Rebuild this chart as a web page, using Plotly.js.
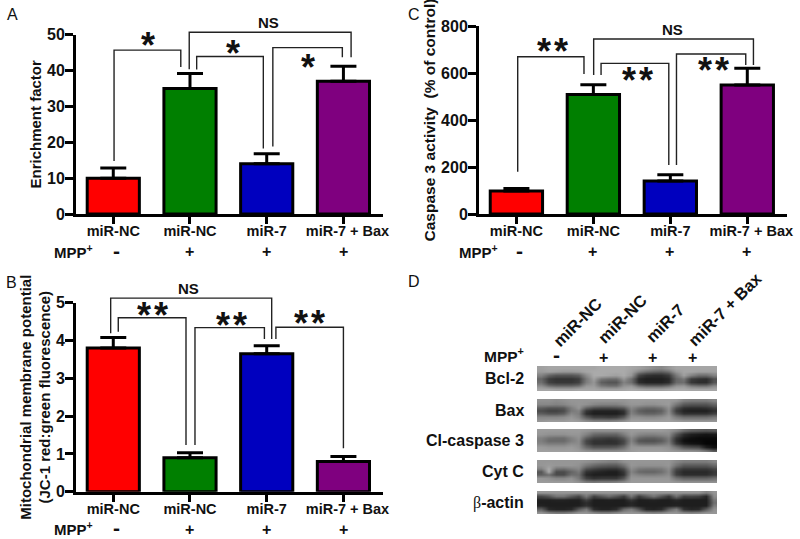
<!DOCTYPE html>
<html><head><meta charset="utf-8">
<script src="https://cdn.plot.ly/plotly-3.0.1.min.js"></script>
<style>html,body{margin:0;padding:0;background:#fff}#c{width:800px;height:539px}</style>
</head><body><div id="c"></div>
<script>
// ---- data ----
const categories = ['miR-NC','miR-NC','miR-7','\u00a0\u00a0miR-7 + Bax'];
const mppSigns = ['-','+','+','+'];
const barColors = ['#ff0000','#007f00','#0000bf','#7f007f'];

const enrichment = [10,35,14,37];
const enrichmentErr = [2.8,4.2,2.8,4.2];
const potential = [3.8,0.9,3.65,0.8];
const potentialErr = [0.28,0.13,0.21,0.13];
const caspase = [98,508,140,549];
const caspaseErr = [10,42,27,71];

const bracketsA = [
 {x:[0.01,0.01,0.88,0.88], y:[14.8,45.7,45.7,41]},
 {x:[0.99,0.99,3.10,3.10], y:[40.4,50.7,50.7,43.7]},
 {x:[1.087,1.087,1.956,1.956], y:[40.3,43.9,43.9,18.3]},
 {x:[2.08,2.08,2.986,2.986], y:[18.8,46.4,46.4,43.7]}
];
const bracketsB = [
 {x:[-0.034,-0.034,2.065,2.065], y:[4.19,5.12,5.12,4.04]},
 {x:[0.065,0.065,0.948,0.948], y:[4.23,4.60,4.60,1.235]},
 {x:[1.065,1.065,1.97,1.97], y:[1.235,4.34,4.34,4.04]},
 {x:[2.12,2.12,3.0,3.0], y:[4.04,4.35,4.35,1.15]}
];
const bracketsC = [
 {x:[0.017,0.017,0.878,0.878], y:[180,669,669,596]},
 {x:[1.004,1.004,3.08,3.08], y:[591,745,745,634]},
 {x:[1.10,1.10,1.98,1.98], y:[591,641,641,209]},
 {x:[2.08,2.08,2.98,2.98], y:[209,681,681,634]}
];

const blotNames = ['Bcl-2','Bax','Cl-caspase 3','Cyt C','<span style="font-family:Liberation Serif;font-weight:normal">\u03b2</span>-actin'];
const blotLanes = ['miR-NC','miR-NC','miR-7','miR-7 + Bax'];
const bcl2 = [
[160,165,165,165,165,165,165,165,170,170,170,170,165,160,150,140,135,150,165,165,165,165,165,165],
[155,160,155,150,150,155,165,170,170,170,170,170,160,130,110,100,95,110,150,165,165,160,160,160],
[130,100,85,85,85,95,140,170,170,165,160,170,150,70,50,45,45,60,120,160,130,110,110,130],
[100,60,50,50,50,60,120,160,120,110,110,150,110,40,30,30,30,40,100,120,60,50,45,80],
[110,65,55,55,55,65,125,150,95,85,85,130,110,45,35,35,35,45,105,110,55,45,45,85],
[140,110,100,100,100,110,150,155,120,110,110,145,150,110,95,95,95,110,145,150,120,110,110,135],
[165,165,160,160,160,165,165,165,160,160,160,165,170,165,160,160,160,165,170,170,165,165,165,165]];
const bax = [
[145,145,140,145,150,150,150,150,150,150,150,150,155,155,155,155,155,155,150,130,125,125,125,135],
[135,135,130,135,145,150,145,135,130,130,130,140,150,150,145,145,150,155,120,90,85,85,85,100],
[95,85,85,90,125,150,100,80,75,75,80,90,135,115,105,105,115,145,80,50,45,45,50,65],
[75,65,65,75,120,130,55,35,35,35,35,50,125,95,85,85,95,140,60,35,30,30,30,45],
[95,85,85,95,135,125,45,30,30,30,30,45,130,110,100,100,110,145,80,50,50,50,50,65],
[135,135,135,140,150,135,90,65,65,60,65,90,145,145,140,140,145,155,125,110,110,110,110,120],
[150,155,155,155,160,155,140,130,130,130,135,145,160,160,160,160,160,160,155,150,150,150,150,150]];
const casp = [
[155,155,155,155,155,155,150,145,145,145,145,150,155,155,155,155,155,150,135,110,95,90,85,90],
[150,145,145,145,150,150,130,105,100,100,100,125,150,135,130,130,135,140,85,45,30,25,20,25],
[130,115,110,110,130,145,95,70,65,60,65,90,135,105,95,95,105,125,55,25,15,10,10,10],
[125,105,105,105,125,140,70,50,50,45,50,70,130,85,80,80,90,120,45,15,10,10,5,5],
[135,125,125,125,140,140,75,50,50,50,50,75,140,110,105,105,115,130,60,30,20,15,5,5],
[155,150,150,150,155,145,105,85,85,85,90,110,150,150,150,150,150,145,115,85,75,70,30,15],
[160,160,160,160,160,155,145,140,140,140,140,145,155,160,160,160,160,155,150,145,145,140,120,90]];
const cytc = [
[150,150,150,150,150,150,145,140,135,130,130,145,150,150,150,150,150,150,135,125,125,125,125,135],
[150,155,150,150,150,145,120,105,95,90,90,115,150,145,145,145,145,150,115,90,90,90,90,105],
[130,170,115,110,125,135,80,65,55,50,50,75,140,120,115,115,120,140,75,55,55,55,55,70],
[85,170,75,75,100,120,50,40,35,30,30,55,130,105,100,100,110,135,60,40,40,40,40,55],
[95,110,75,75,110,110,40,30,30,30,30,50,140,130,125,125,130,140,65,45,45,45,45,60],
[150,145,135,135,145,120,65,50,55,55,55,85,150,150,150,150,150,150,115,100,100,100,100,110],
[155,155,155,155,155,145,125,120,125,125,130,140,155,155,155,155,155,155,150,145,145,145,145,145]];
const actin = [
[150,150,150,150,150,150,150,150,150,150,150,150,150,150,150,150,150,150,150,150,150,150,130,150],
[70,85,115,115,90,70,120,65,85,105,85,60,115,60,90,115,85,55,110,65,70,65,40,140],
[32,32,35,35,32,32,65,30,30,32,30,30,55,30,32,35,30,30,40,30,30,30,30,120],
[30,30,30,30,30,30,45,30,30,30,30,30,38,30,30,30,30,30,32,30,30,30,30,110],
[35,30,30,30,30,32,50,30,30,30,30,30,42,30,30,30,30,32,36,30,30,30,32,125],
[95,40,34,34,40,90,120,45,34,34,45,105,125,85,38,34,42,95,125,50,38,42,90,145],
[150,135,125,125,135,150,150,140,130,130,140,150,150,150,140,135,140,150,150,140,135,140,150,150]];
const blots = [bcl2,bax,casp,cytc,actin];

// ---- layout helpers ----
const W=800,H=539;
const FONT='Liberation Sans, Arial, sans-serif';
const INK='#111';
const fx=p=>p/W, fy=p=>1-p/H;
const traces=[], annotations=[];
const layout={width:W,height:H,margin:{l:0,r:0,t:0,b:0},paper_bgcolor:'#fff',plot_bgcolor:'rgba(0,0,0,0)',showlegend:false,bargap:0.32,font:{family:FONT,color:INK},annotations};

function txt(x,y,text,size,opt={}){
  annotations.push(Object.assign({xref:'paper',yref:'paper',x:fx(x),y:fy(y),text,showarrow:false,xanchor:'center',yanchor:'middle',font:{family:FONT,size,color:INK}},opt));
}
function chart(n,vals,errs,brackets,pos,ytitle,titleSize,ytickvals,standoff){
  const xa=n===1?'x':'x'+n, ya=n===1?'y':'y'+n;
  const xb='x'+(n+10), yb='y'+(n+10);
  traces.push({type:'bar',x:[0,1,2,3],y:vals,xaxis:xa,yaxis:ya,
    marker:{color:barColors,line:{color:'#000',width:3}},
    error_y:{type:'data',symmetric:false,array:errs,arrayminus:[0,0,0,0],color:'#000',thickness:3,width:13},cliponaxis:false});
  brackets.forEach(b=>traces.push({type:'scatter',mode:'lines',x:b.x,y:b.y,xaxis:xb,yaxis:yb,cliponaxis:false,line:{color:'#222',width:1.4}}));
  const axis={showgrid:false,zeroline:false,showline:true,linecolor:'#000',linewidth:3,ticks:'outside',tickcolor:'#000',tickwidth:3};
  const xr=[-0.486,3.516], top=ytickvals[ytickvals.length-1];
  layout[n===1?'xaxis':'xaxis'+n]=Object.assign({},axis,{anchor:ya,domain:[fx(pos.l),fx(pos.r)],range:xr,tickmode:'array',tickvals:[0,1,2,3],ticktext:categories,ticklen:7,ticklabelstandoff:-5,tickfont:{family:FONT,size:14.5,weight:700,color:INK}});
  layout[n===1?'yaxis':'yaxis'+n]=Object.assign({},axis,{anchor:xa,domain:[fy(pos.b),fy(pos.t)],range:[0,top],tickmode:'array',tickvals:ytickvals,ticklen:8,ticklabelstandoff:-3,tickfont:{family:FONT,size:16,weight:700,color:INK},
    title:{text:'<b>'+ytitle+'</b>',standoff,font:{family:FONT,size:titleSize,color:INK}}});
  // hidden same-scale axes with head-room, so brackets may rise above the y axis
  const extra=20, h=pos.b-pos.t;
  layout['xaxis'+(n+10)]={visible:false,anchor:yb,domain:[fx(pos.l),fx(pos.r)],range:xr};
  layout['yaxis'+(n+10)]={visible:false,anchor:xb,domain:[fy(pos.b),fy(pos.t-extra)],range:[0,top*(h+extra)/h]};
  // MPP row
  txt(pos.mppX,pos.mppY,'<b>MPP<sup>+</sup></b>',15,{xanchor:'left'});
  mppSigns.forEach((s,i)=>{
    const sx=pos.l+(i+0.486)*76.7;
    if(s==='-') txt(sx+3,pos.mppY-1,'<b>-</b>',21);
    else txt(sx,pos.mppY+1,'<b>+</b>',16);
  });
}
// ---- panels A, B, C ----
chart(1,enrichment,enrichmentErr,bracketsA,{l:76,r:383,t:34.7,b:214,mppX:52,mppY:251},'Enrichment factor',15,[0,10,20,30,40,50],2);
chart(2,potential,potentialErr,bracketsB,{l:76,r:383,t:302.7,b:491.7,mppX:52,mppY:528},'Mitochondrial membrane potential<br>(JC-1 red:green fluorescence)',15,[0,1,2,3,4,5],2);
chart(3,caspase,caspaseErr,bracketsC,{l:479,r:787,t:26,b:214,mppX:457,mppY:251},'Caspase 3 activity\u00a0\u00a0(% of control)',15.5,[0,200,400,600,800],2);

// significance labels
[[148,40],[233,48],[308,62]].forEach(s=>txt(s[0],s[1]+5,'<b>*</b>',36));
[[152,310],[232,320],[309,318],[552,46.7],[637,75],[713,65.7]].forEach(s=>txt(s[0],s[1]+5,'<b>*\u200a*</b>',36));
txt(268,23,'<b>NS</b>',15); txt(188,288,'<b>NS</b>',15); txt(672,29,'<b>NS</b>',15);
// panel letters
txt(12,14,'A',16); txt(414,14,'C',16); txt(11,282,'B',16); txt(414,281,'D',16);

// ---- panel D blots ----
const rows=[[366,391],[399,422],[429,452],[460,483],[491,514]];
blots.forEach((z,i)=>{
  const n=4+i;
  traces.push({type:'heatmap',z,xaxis:'x'+n,yaxis:'y'+n,zmin:0,zmax:255,zsmooth:'best',showscale:false,hoverinfo:'skip',colorscale:[[0,'#000'],[1,'#fff']]});
  layout['xaxis'+n]={domain:[fx(537),fx(717)],range:[-0.5,23.5],visible:false,anchor:'y'+n};
  layout['yaxis'+n]={domain:[fy(rows[i][1]),fy(rows[i][0])],range:[6.5,-0.5],visible:false,anchor:'x'+n};
  txt(526,(rows[i][0]+rows[i][1])/2,'<b>'+blotNames[i]+'</b>',16,{xanchor:'right'});
});
txt(526,355,'<b>MPP<sup>+</sup></b>',15.5,{xanchor:'right'});
txt(556,354,'<b>-</b>',21);
[603,652,692].forEach(x=>txt(x,357,'<b>+</b>',16));
[[577.5,322],[622,319],[665,323],[725,309]].forEach((p,i)=>txt(p[0],p[1],'<b>'+blotLanes[i]+'</b>',16.5,{textangle:-45}));

Plotly.newPlot('c',traces,layout,{displayModeBar:false,staticPlot:true});
</script></body></html>
